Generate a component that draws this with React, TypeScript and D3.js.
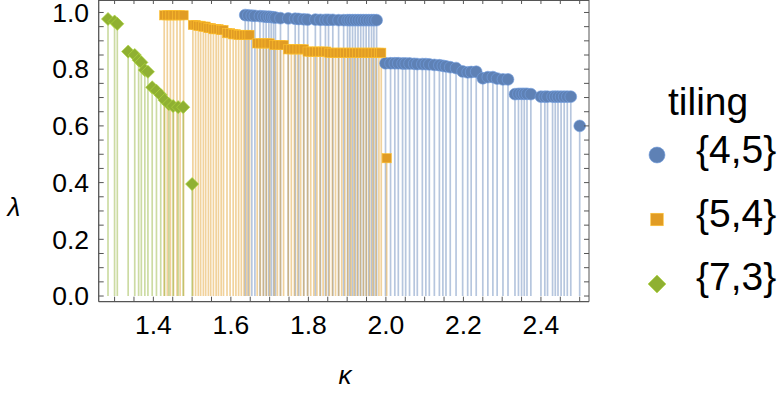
import React from 'react'
import * as d3 from 'd3'

// kappa, lambda pairs
const tiling45: Array<[number, number]> = [
  [1.637, 0.991], [1.645, 0.99], [1.654, 0.989], [1.662, 0.988], [1.675, 0.987],
  [1.684, 0.986], [1.691, 0.985], [1.698, 0.985], [1.704, 0.984], [1.71, 0.983],
  [1.715, 0.982], [1.728, 0.98], [1.748, 0.979], [1.766, 0.978], [1.775, 0.977],
  [1.788, 0.976], [1.798, 0.975], [1.818, 0.975], [1.831, 0.974], [1.844, 0.974],
  [1.852, 0.974], [1.863, 0.974], [1.878, 0.973], [1.891, 0.973], [1.901, 0.973],
  [1.907, 0.973], [1.914, 0.973], [1.921, 0.973], [1.928, 0.973], [1.935, 0.973],
  [1.942, 0.973], [1.949, 0.973], [1.956, 0.973], [1.963, 0.973], [1.969, 0.973],
  [1.976, 0.973],
  [1.999, 0.821], [2.012, 0.821], [2.023, 0.821], [2.032, 0.821], [2.043, 0.82],
  [2.051, 0.82], [2.061, 0.82], [2.073, 0.819], [2.081, 0.818], [2.094, 0.818],
  [2.103, 0.818], [2.112, 0.817], [2.125, 0.815], [2.138, 0.814], [2.147, 0.812],
  [2.155, 0.81], [2.166, 0.807], [2.181, 0.804], [2.198, 0.792], [2.211, 0.789],
  [2.22, 0.79], [2.233, 0.791], [2.25, 0.768], [2.263, 0.772], [2.276, 0.772],
  [2.287, 0.767], [2.302, 0.764], [2.315, 0.764],
  [2.333, 0.712], [2.342, 0.713], [2.35, 0.713], [2.357, 0.713], [2.364, 0.713],
  [2.374, 0.712], [2.4, 0.703], [2.41, 0.703], [2.417, 0.703], [2.43, 0.703],
  [2.437, 0.703], [2.444, 0.703], [2.452, 0.703], [2.46, 0.703], [2.468, 0.703],
  [2.477, 0.703], [2.5, 0.6],
]

const tiling54: Array<[number, number]> = [
  [1.428, 0.99], [1.436, 0.99], [1.444, 0.99], [1.452, 0.99], [1.461, 0.99],
  [1.469, 0.99], [1.478, 0.99],
  [1.502, 0.956], [1.509, 0.956], [1.516, 0.953], [1.522, 0.953], [1.529, 0.95],
  [1.535, 0.95], [1.542, 0.945], [1.548, 0.945], [1.555, 0.941], [1.562, 0.941],
  [1.568, 0.941], [1.575, 0.938], [1.581, 0.938], [1.59, 0.927], [1.598, 0.927],
  [1.606, 0.923], [1.613, 0.923], [1.62, 0.921], [1.627, 0.921], [1.634, 0.921],
  [1.641, 0.921], [1.648, 0.921],
  [1.668, 0.891], [1.676, 0.891], [1.684, 0.891], [1.692, 0.891], [1.7, 0.891],
  [1.712, 0.885], [1.72, 0.885], [1.728, 0.885], [1.736, 0.885],
  [1.748, 0.87], [1.756, 0.87], [1.764, 0.87], [1.772, 0.87], [1.78, 0.87],
  [1.788, 0.87],
  [1.798, 0.862], [1.806, 0.862], [1.814, 0.862], [1.822, 0.862], [1.83, 0.862],
  [1.838, 0.862], [1.846, 0.862],
  [1.854, 0.858], [1.862, 0.858], [1.87, 0.858], [1.878, 0.858], [1.886, 0.858],
  [1.894, 0.858], [1.902, 0.858], [1.91, 0.858], [1.918, 0.858], [1.926, 0.858],
  [1.934, 0.858], [1.942, 0.858], [1.95, 0.858], [1.958, 0.858], [1.966, 0.858],
  [1.974, 0.858], [1.982, 0.858], [1.988, 0.858],
  [2.002, 0.486],
]

const tiling73: Array<[number, number]> = [
  [1.283, 0.977], [1.3, 0.968], [1.307, 0.96],
  [1.335, 0.862], [1.352, 0.85], [1.362, 0.832], [1.369, 0.824],
  [1.378, 0.797], [1.386, 0.791],
  [1.397, 0.736], [1.408, 0.724], [1.419, 0.709], [1.429, 0.691],
  [1.44, 0.677], [1.451, 0.67], [1.464, 0.666], [1.477, 0.666],
  [1.5, 0.395],
]

const seriesNames = ['{4,5}', '{5,4}', '{7,3}']
const seriesColors = ['#5E81B5', '#E19C24', '#8FB032']
const seriesShapes = ['circle', 'square', 'diamond']
const seriesData = [tiling45, tiling54, tiling73]

const font = '"Liberation Sans", Arial, sans-serif'

const Marker = ({ shape, x, y, s, color }: { shape: string; x: number; y: number; s: number; color: string }) => {
  const edge = d3.color(color)!.brighter(0.6).formatHex()
  if (shape === 'circle') {
    return <circle cx={x} cy={y} r={s} fill={color} stroke={edge} strokeWidth={0.6} />
  }
  if (shape === 'square') {
    const h = s * 0.78
    return <rect x={x - h} y={y - h} width={2 * h} height={2 * h} fill={color} stroke={edge} strokeWidth={0.6} />
  }
  const h = s * 1.12
  return (
    <path
      d={`M${x},${y - h}L${x + h},${y}L${x},${y + h}L${x - h},${y}Z`}
      fill={color}
      stroke={edge}
      strokeWidth={0.6}
    />
  )
}

const App = () => {
  const width = 784
  const height = 394
  const left = 98.7
  const right = 589
  const top = 0
  const bottom = 301.7

  const x = d3.scaleLinear().domain([1.259, 2.524]).range([left, right])
  const y = d3.scaleLinear().domain([-0.02, 1.044]).range([bottom, top])

  const xMinor = x.ticks(25)
  const xMajor = x.ticks(6)
  const yMinor = y.ticks(20)
  const yMajor = y.ticks(5)
  const tick = 5
  const axisColor = '#555'

  return (
    <svg width={width} height={height} style={{ position: 'absolute', left: 0, top: 0 }} fontFamily={font}>
      <rect width={width} height={height} fill='#fff' />
      {/* stems */}
      {seriesData.map((data, i) => (
        <g key={'s' + i} stroke={seriesColors[i]} strokeOpacity={0.45} strokeWidth={1.7}>
          {data.map((d, j) => (
            <line key={j} x1={x(d[0])} x2={x(d[0])} y1={y(d[1])} y2={y(0)} />
          ))}
        </g>
      ))}
      {/* points */}
      {seriesData.map((data, i) => (
        <g key={'p' + i}>
          {data.map((d, j) => (
            <Marker key={j} shape={seriesShapes[i]} x={x(d[0])} y={y(d[1])} s={5.9} color={seriesColors[i]} />
          ))}
        </g>
      ))}
      {/* frame */}
      <g stroke={axisColor} strokeWidth={1} fill='none'>
        <line x1={left} x2={right} y1={bottom} y2={bottom} strokeWidth={1.3} />
        <line x1={left} x2={left} y1={top} y2={bottom} strokeWidth={1.3} />
        <line x1={left} x2={right} y1={top + 0.5} y2={top + 0.5} />
        <line x1={right} x2={right} y1={top} y2={bottom} />
        {xMinor.map((t, i) => (
          <g key={'xt' + i}>
            <line x1={x(t)} x2={x(t)} y1={bottom} y2={bottom - tick} />
            <line x1={x(t)} x2={x(t)} y1={top} y2={top + tick - 1} />
          </g>
        ))}
        {yMinor.map((t, i) => (
          <g key={'yt' + i}>
            <line x1={left} x2={left + tick} y1={y(t)} y2={y(t)} />
            <line x1={right} x2={right - tick} y1={y(t)} y2={y(t)} />
          </g>
        ))}
      </g>
      <g fontSize={26.5} fill='#000'>
        {xMajor.map((t, i) => (
          <text key={'xl' + i} x={x(t)} y={334} textAnchor='middle'>
            {d3.format('.1f')(t)}
          </text>
        ))}
        {yMajor.map((t, i) => (
          <text key={'yl' + i} x={89} y={y(t) + 9.3} textAnchor='end'>
            {d3.format('.1f')(t)}
          </text>
        ))}
      </g>
      <text x={14} y={216} fontSize={26} fontStyle='italic' textAnchor='middle'>λ</text>
      <text x={345} y={384} fontSize={26} fontStyle='italic' textAnchor='middle'>κ</text>
      {/* legend */}
      <text x={668} y={115} fontSize={39}>tiling</text>
      {seriesNames.map((name, i) => (
        <g key={'lg' + i}>
          <Marker shape={seriesShapes[i]} x={657} y={155 + i * 64.5} s={8} color={seriesColors[i]} />
          <text x={696} y={163 + i * 63.7} fontSize={39}>{name}</text>
        </g>
      ))}
    </svg>
  )
}

export default App
